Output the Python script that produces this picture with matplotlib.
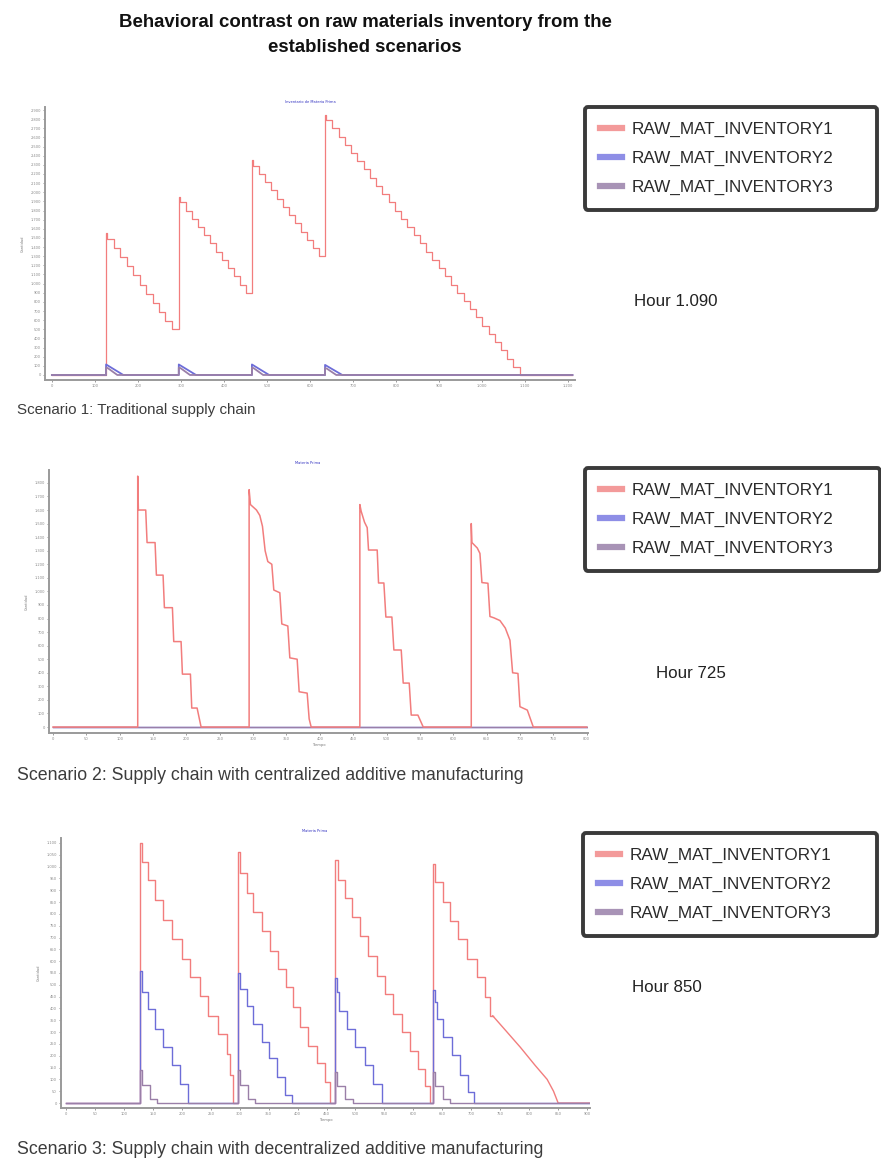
import matplotlib
matplotlib.use('Agg')
import matplotlib.pyplot as plt
from matplotlib.ticker import MultipleLocator, FuncFormatter
from matplotlib.lines import Line2D

# ---------------- data ----------------
series_labels = ['RAW_MAT_INVENTORY1', 'RAW_MAT_INVENTORY2', 'RAW_MAT_INVENTORY3']
main_title = 'Behavioral contrast on raw materials inventory from the\nestablished scenarios'
captions = ['Scenario 1: Traditional supply chain',
            'Scenario 2: Supply chain with centralized additive manufacturing',
            'Scenario 3: Supply chain with decentralized additive manufacturing']
hour_notes = ['Hour 1.090', 'Hour 725', 'Hour 850']
panel_titles = ['Inventario de Materia Prima', 'Materia Prima', 'Materia Prima']

# Scenario 1 (step data, value holds until next time)
s1_inv1_t = [0, 126, 129, 144, 159, 174, 189, 204, 219, 234, 249, 264, 279,
             295, 298, 312, 326, 340, 354, 368, 382, 396, 410, 424, 438, 452,
             465, 468, 482, 496, 510, 524, 538, 552, 566, 580, 594, 608, 622,
             635, 638, 652, 667, 681, 696, 710, 725, 739, 754, 768, 783, 797, 812,
             826, 841, 855, 870, 884, 899, 913, 928, 942, 957, 971, 986, 1000, 1015,
             1029, 1044, 1058, 1073, 1088, 1210]
s1_inv1_v = [0, 1550, 1490, 1390, 1290, 1190, 1090, 990, 890, 790, 690, 590, 500,
             1950, 1890, 1800, 1710, 1620, 1530, 1440, 1350, 1260, 1170, 1080, 990, 900,
             2350, 2290, 2200, 2110, 2020, 1930, 1840, 1750, 1660, 1570, 1480, 1390, 1300,
             2850, 2790, 2700, 2610, 2520, 2430, 2340, 2250, 2160, 2070, 1980, 1890, 1800, 1710,
             1620, 1530, 1440, 1350, 1260, 1170, 1080, 990, 900, 810, 720, 630, 540, 450,
             360, 270, 180, 90, 0, 0]
s1_inv2_t = [0, 126, 126, 166, 295, 295, 335, 465, 465, 505, 635, 635, 675, 1210]
s1_inv2_v = [0, 0, 115, 0, 0, 115, 0, 0, 115, 0, 0, 110, 0, 0]
s1_inv3_t = [0, 126, 126, 130, 152, 295, 295, 299, 321, 465, 465, 469, 491, 635, 635, 639, 661, 1210]
s1_inv3_v = [0, 0, 80, 75, 0, 0, 80, 75, 0, 0, 80, 75, 0, 0, 75, 70, 0, 0]

# Scenario 2 (polyline vertices)
s2_inv1_t = [0, 127, 127, 128, 139, 141, 153, 155, 165, 167, 179, 181, 192, 194, 206, 208, 216, 222,
             294, 294, 296, 305, 310, 314, 318, 322, 328, 331, 340, 343, 352, 355, 366, 369, 381, 384, 387,
             460, 460, 462, 467, 471, 473, 486, 488, 496, 499, 508, 511, 522, 525, 534, 537, 547, 555,
             627, 627, 628, 636, 640, 643, 652, 655, 661, 670, 678, 685, 689, 697, 700, 711, 720, 800]
s2_inv1_v = [0, 0, 1850, 1600, 1600, 1360, 1360, 1120, 1120, 880, 880, 630, 630, 390, 390, 140, 140, 0,
             0, 1750, 1640, 1600, 1560, 1480, 1300, 1220, 1200, 1010, 990, 760, 745, 510, 500, 260, 250, 60, 0,
             0, 1640, 1590, 1510, 1470, 1305, 1305, 1062, 1062, 811, 811, 568, 568, 324, 324, 88, 88, 0,
             0, 1500, 1360, 1320, 1280, 1065, 1060, 815, 805, 785, 730, 640, 400, 395, 150, 125, 0, 0]
s2_inv2_t = [0, 800]
s2_inv2_v = [0, 0]
s2_inv3_t = [0, 800]
s2_inv3_v = [0, 0]

# Scenario 3 (step data + final continuous tail of inventory 1)
s3_inv1_t = [0, 128, 131, 142, 154, 168, 183, 200, 214, 231, 245, 263, 278, 284, 289,
             297, 301, 313, 323, 339, 352, 366, 380, 392, 404, 418, 434, 447, 456,
             465, 470, 482, 494, 508, 522, 537, 551, 565, 580, 594, 608, 620, 628,
             634, 637, 651, 663, 677, 693, 710, 724, 732, 737]
s3_inv1_v = [0, 1100, 1020, 945, 860, 776, 692, 608, 533, 453, 369, 293, 209, 120, 0,
             1060, 974, 890, 806, 726, 642, 566, 490, 405, 323, 243, 168, 90, 0,
             1030, 945, 869, 785, 705, 621, 537, 461, 377, 302, 222, 146, 70, 0,
             1010, 936, 852, 768, 692, 608, 533, 449, 369, 369]
s3_inv1_tail_t = [737, 760, 785, 810, 831, 842, 850, 905]
s3_inv1_tail_v = [369, 305, 235, 160, 100, 50, 0, 0]
s3_inv2_t = [0, 128, 131, 142, 154, 168, 183, 197, 210,
             297, 301, 313, 323, 339, 350, 365, 378, 390,
             465, 468, 472, 486, 500, 516, 530, 545,
             634, 637, 641, 651, 666, 680, 695, 705, 905]
s3_inv2_v = [0, 560, 470, 398, 314, 238, 159, 80, 0,
             550, 482, 411, 335, 260, 189, 110, 35, 0,
             530, 470, 390, 315, 239, 159, 80, 0,
             480, 428, 357, 281, 202, 120, 45, 0, 0]
s3_inv3_t = [0, 128, 131, 145, 158, 297, 300, 314, 327, 465, 468, 482, 495, 634, 637, 651, 664, 905]
s3_inv3_v = [0, 140, 75, 15, 0, 140, 75, 15, 0, 130, 70, 15, 0, 130, 70, 15, 0, 0]

# ---------------- style ----------------
FAM = ['Liberation Sans', 'DejaVu Sans']

C_RED = '#f27d7d'
C_BLUE = '#6d6dd8'
C_PURP = '#9a7fa8'
L_RED = '#f39a9a'
L_BLUE = '#8e8ee6'
L_PURP = '#a893b6'

W, H = 881, 1171
fig = plt.figure(figsize=(W / 100, H / 100), dpi=100)

def ax_rect(l, t, r, b):
    return [l / W, 1 - b / H, (r - l) / W, (b - t) / H]

def thousands(v, pos=None):
    return f'{int(round(v)):,}'.replace(',', '.')

def style_axes(ax, xmaj, ymaj, xmax_lab, ymax_lab, xlabel):
    for s in ['top', 'right']:
        ax.spines[s].set_visible(False)
    for s in ['left', 'bottom']:
        ax.spines[s].set_color('#9a9a9a')
        ax.spines[s].set_linewidth(1.4)
    ax.xaxis.set_major_locator(MultipleLocator(xmaj))
    ax.yaxis.set_major_locator(MultipleLocator(ymaj))
    ax.xaxis.set_major_formatter(FuncFormatter(lambda v, p: thousands(v) if 0 <= v <= xmax_lab else ''))
    ax.yaxis.set_major_formatter(FuncFormatter(lambda v, p: thousands(v) if 0 <= v <= ymax_lab else ''))
    ax.tick_params(axis='both', labelsize=2.6, colors='#8a8a8a', length=1.5, width=0.6, pad=1.5)
    ax.set_ylabel('Cantidad', fontsize=2.6, color='#777777', labelpad=4)
    if xlabel:
        ax.set_xlabel('Tiempo', fontsize=2.6, color='#777777', labelpad=1.5)
    ax.set_facecolor('white')

def add_legend(ax, l, t, r, b):
    handles = [Line2D([], [], color=c, lw=4.5) for c in (L_RED, L_BLUE, L_PURP)]
    leg = ax.legend(handles, series_labels, loc='upper left',
                    bbox_to_anchor=(l / W, 1 - b / H, (r - l) / W, (b - t) / H),
                    bbox_transform=fig.transFigure, mode='expand',
                    prop={'family': FAM, 'size': 12.3},
                    handlelength=1.3, handletextpad=0.55, labelspacing=0.8,
                    borderpad=0.88, borderaxespad=0, fancybox=True,
                    framealpha=1, edgecolor='#3a3a3a', labelcolor='#2a2a2a')
    leg.get_frame().set_linewidth(2.8)
    return leg

# ---------- Panel 1 ----------
ax1 = fig.add_axes(ax_rect(45, 107, 575, 380))
ax1.step(s1_inv1_t, s1_inv1_v, where='post', color=C_RED, lw=0.9, label=series_labels[0])
ax1.plot(s1_inv2_t, s1_inv2_v, color=C_BLUE, lw=1.3, label=series_labels[1])
ax1.plot(s1_inv3_t, s1_inv3_v, color=C_PURP, lw=1.3, label=series_labels[2])
ax1.set_xlim(-16, 1216)
ax1.set_ylim(-55, 2933)
style_axes(ax1, 100, 100, 1200, 2900, False)
ax1.text(0.5, 1.01, panel_titles[0], transform=ax1.transAxes, ha='center', va='bottom',
         fontsize=2.6, color='#3030c0')
add_legend(ax1, 585, 107, 877, 212)

# ---------- Panel 2 ----------
ax2 = fig.add_axes(ax_rect(49, 470, 588, 733))
ax2.plot(s2_inv2_t, s2_inv2_v, color=C_BLUE, lw=1.0, label=series_labels[1])
ax2.plot(s2_inv3_t, s2_inv3_v, color=C_PURP, lw=1.0, label=series_labels[2])
ax2.plot(s2_inv1_t, s2_inv1_v, color=C_RED, lw=1.1, label=series_labels[0])
ax2.set_xlim(-6, 802)
ax2.set_ylim(-44, 1895)
style_axes(ax2, 50, 100, 800, 1800, True)
ax2.text(0.48, 1.02, panel_titles[1], transform=ax2.transAxes, ha='center', va='bottom',
         fontsize=2.6, color='#3030c0')
add_legend(ax2, 585, 468, 880, 578)

# ---------- Panel 3 ----------
ax3 = fig.add_axes(ax_rect(61, 838, 590, 1108))
ax3.step(s3_inv1_t, s3_inv1_v, where='post', color=C_RED, lw=1.0, label=series_labels[0])
ax3.plot(s3_inv1_tail_t, s3_inv1_tail_v, color=C_RED, lw=1.0)
ax3.step(s3_inv2_t, s3_inv2_v, where='post', color=C_BLUE, lw=1.0, label=series_labels[1])
ax3.step(s3_inv3_t, s3_inv3_v, where='post', color=C_PURP, lw=1.0, label=series_labels[2])
ax3.set_xlim(-8.6, 905)
ax3.set_ylim(-21, 1121)
style_axes(ax3, 50, 50, 900, 1100, True)
ax3.text(0.48, 1.02, panel_titles[2], transform=ax3.transAxes, ha='center', va='bottom',
         fontsize=2.6, color='#3030c0')
add_legend(ax3, 583, 833, 877, 945)

# ---------- texts ----------
fig.text(365 / W, 1 - 35 / H, main_title, ha='center', va='center', fontsize=13.4,
         fontweight='bold', family=FAM, color='#111111', linespacing=1.6)

for (x, y), s in zip([(634, 302), (656, 673), (632, 987)], hour_notes):
    fig.text(x / W, 1 - y / H, s, ha='left', va='center', fontsize=12.2,
             family=FAM, color='#222222')

for y, s, fs in zip([410, 776, 1150], captions, [10.9, 12.8, 12.8]):
    fig.text(17 / W, 1 - y / H, s, ha='left', va='center', fontsize=fs,
             family=FAM, color='#3c3c3c')

fig.savefig('out.png', dpi=100, facecolor='white')
